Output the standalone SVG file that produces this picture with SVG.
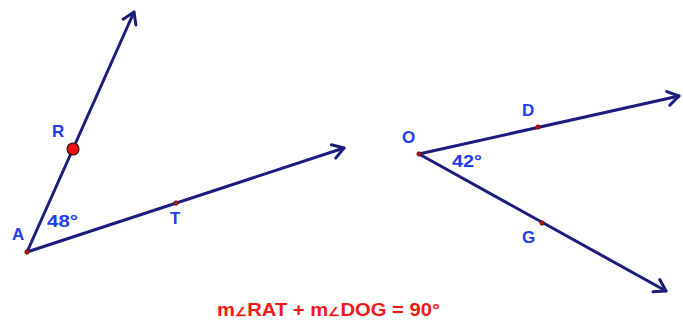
<svg xmlns="http://www.w3.org/2000/svg" width="683" height="321" viewBox="0 0 683 321">
<style>
.ray{stroke:#1c1c7e;stroke-width:3;fill:none;stroke-linecap:round;marker-end:url(#arr)}
.pt{fill:#c0160c;stroke:#5a1010;stroke-width:0.8}
.lbl{font-family:"Liberation Sans",Arial,sans-serif;font-weight:bold;font-size:17px;fill:#1e3cf0}
.eq{font-family:"Liberation Sans",Arial,sans-serif;font-weight:bold;font-size:18px;fill:#f01818}
</style>
<defs>
<marker id="arr" markerUnits="userSpaceOnUse" markerWidth="20" markerHeight="20" viewBox="-14 -10 20 20" refX="0" refY="0" orient="auto">
<path d="M-11,-7 L0,0 L-11,7" fill="none" stroke="#1c1c7e" stroke-width="3" stroke-linecap="round" stroke-linejoin="round"/>
</marker>
</defs>
<g id="connectors">
<line class="ray" x1="27" y1="252" x2="134" y2="12"/>
<line class="ray" x1="27" y1="252" x2="344" y2="148"/>
<line class="ray" x1="419" y1="154" x2="679" y2="96"/>
<line class="ray" x1="419" y1="154" x2="666" y2="291"/>
</g>
<g id="A"><circle class="pt" cx="27" cy="252" r="2.2"/><text class="lbl" x="12" y="240">A</text></g>
<g id="R"><circle cx="73" cy="149" r="6" fill="#ee1111" stroke="#3a0a0a" stroke-width="1.2"/><text class="lbl" x="52" y="137">R</text></g>
<g id="T"><circle class="pt" cx="176" cy="203" r="2.2"/><text class="lbl" x="170" y="224">T</text></g>
<g id="angleA"><text class="lbl" x="47" y="227" textLength="31" lengthAdjust="spacingAndGlyphs">48°</text></g>
<g id="O"><circle class="pt" cx="419" cy="154" r="2.2"/><text class="lbl" x="402" y="143">O</text></g>
<g id="D"><circle class="pt" cx="538" cy="127" r="2.2"/><text class="lbl" x="522" y="116">D</text></g>
<g id="G"><circle class="pt" cx="542" cy="223" r="2.2"/><text class="lbl" x="522" y="243">G</text></g>
<g id="angleO"><text class="lbl" x="452" y="167" textLength="30" lengthAdjust="spacingAndGlyphs">42°</text></g>
<g id="equation"><text class="eq" x="217" y="316" textLength="223" lengthAdjust="spacingAndGlyphs">m<tspan font-size="12">∠</tspan>RAT + m<tspan font-size="12">∠</tspan>DOG = 90°</text></g>
</svg>
